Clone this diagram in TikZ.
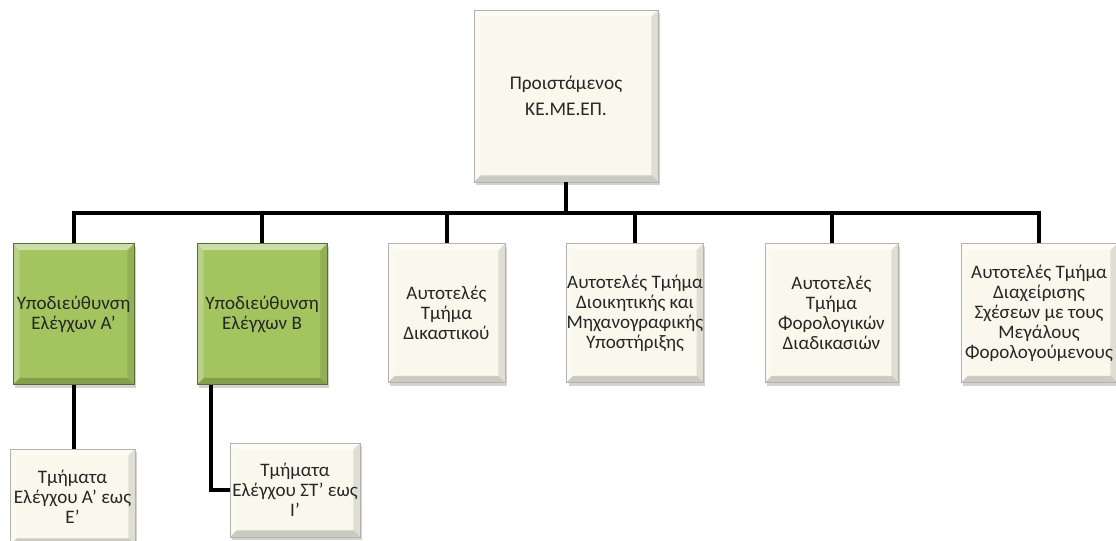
\documentclass[tikz,border=0pt]{standalone}
\usepackage{fontspec}
\setmainfont{Carlito}
\usetikzlibrary{shadows}

\definecolor{cream}{HTML}{FAF8EC}
\definecolor{leaf}{HTML}{A3C45F}

\begin{document}
\begin{tikzpicture}[x=0.75pt, y=-0.75pt, line width=3pt,
	boxsize/.style 2 args={minimum width=#1*0.75pt, minimum height=#2*0.75pt},
	bevel/.style={path picture={
		\fill[white, opacity=0.45] (path picture bounding box.north west) -- (path picture bounding box.north east)
			-- ([xshift=-5pt, yshift=-5pt]path picture bounding box.north east) -- ([xshift=5pt, yshift=-5pt]path picture bounding box.north west) -- cycle;
		\fill[white, opacity=0.25] (path picture bounding box.north west) -- (path picture bounding box.south west)
			-- ([xshift=5pt, yshift=5pt]path picture bounding box.south west) -- ([xshift=5pt, yshift=-5pt]path picture bounding box.north west) -- cycle;
		\fill[black, opacity=0.10] (path picture bounding box.north east) -- (path picture bounding box.south east)
			-- ([xshift=-5pt, yshift=5pt]path picture bounding box.south east) -- ([xshift=-5pt, yshift=-5pt]path picture bounding box.north east) -- cycle;
		\fill[black, opacity=0.18] (path picture bounding box.south west) -- (path picture bounding box.south east)
			-- ([xshift=-5pt, yshift=5pt]path picture bounding box.south east) -- ([xshift=5pt, yshift=5pt]path picture bounding box.south west) -- cycle;
	}},
	unit/.style={draw=black!30, line width=0.5pt, fill=cream, bevel, align=center, inner sep=0pt,
		text=black!85, font=\fontsize{14.3}{15}\selectfont,
		drop shadow={shadow xshift=1.5pt, shadow yshift=-2.5pt, opacity=0.35}},
	subdir/.style={unit, fill=leaf, draw=leaf!55!black}]

	\useasboundingbox (0,0) rectangle (1116,540);

	% head of the unit
	\node[unit, boxsize={184}{172}, font=\fontsize{14.5}{19.5}\selectfont] (head) at (566,96) {Προιστάμενος\\ΚΕ.ΜΕ.ΕΠ.};

	% second level
	\node[subdir, boxsize={121}{141}] (subA) at (73.5,314) {Υποδιεύθυνση\\Ελέγχων Α'};
	\node[subdir, boxsize={130}{141}] (subB) at (262,314) {Υποδιεύθυνση\\Ελέγχων Β};
	\node[unit, boxsize={117}{139}] (court) at (446.5,313) {Αυτοτελές\\Τμήμα\\Δικαστικού};
	\node[unit, boxsize={136}{139}] (admin) at (635,313) {Αυτοτελές Τμήμα\\Διοικητικής και\\Μηχανογραφικής\\Υποστήριξης};
	\node[unit, boxsize={133}{139}] (proc) at (831.5,313) {Αυτοτελές\\Τμήμα\\Φορολογικών\\Διαδικασιών};
	\node[unit, boxsize={156}{139}] (large) at (1039,313) {Αυτοτελές Τμήμα\\Διαχείρισης\\Σχέσεων με τους\\Μεγάλους\\Φορολογούμενους};

	% third level
	\node[unit, boxsize={125}{96}] (deptA) at (72.5,497) {Τμήματα\\Ελέγχου Α' εως\\Ε'};
	\node[unit, boxsize={130}{94}] (deptB) at (295,490) {Τμήματα\\Ελέγχου ΣΤ' εως\\Ι'};

	% connectors
	\coordinate (bus) at (566,213);
	\draw (head.south) -- (bus);
	\foreach \n in {subA,subB,court,admin,proc,large}
		\draw (\n.north) |- (bus);
	\draw (subA.south) -- (subA.south |- deptA.north);
	\draw ([xshift=10.5pt]subB.south west) |- (deptB.west);
\end{tikzpicture}
\end{document}
